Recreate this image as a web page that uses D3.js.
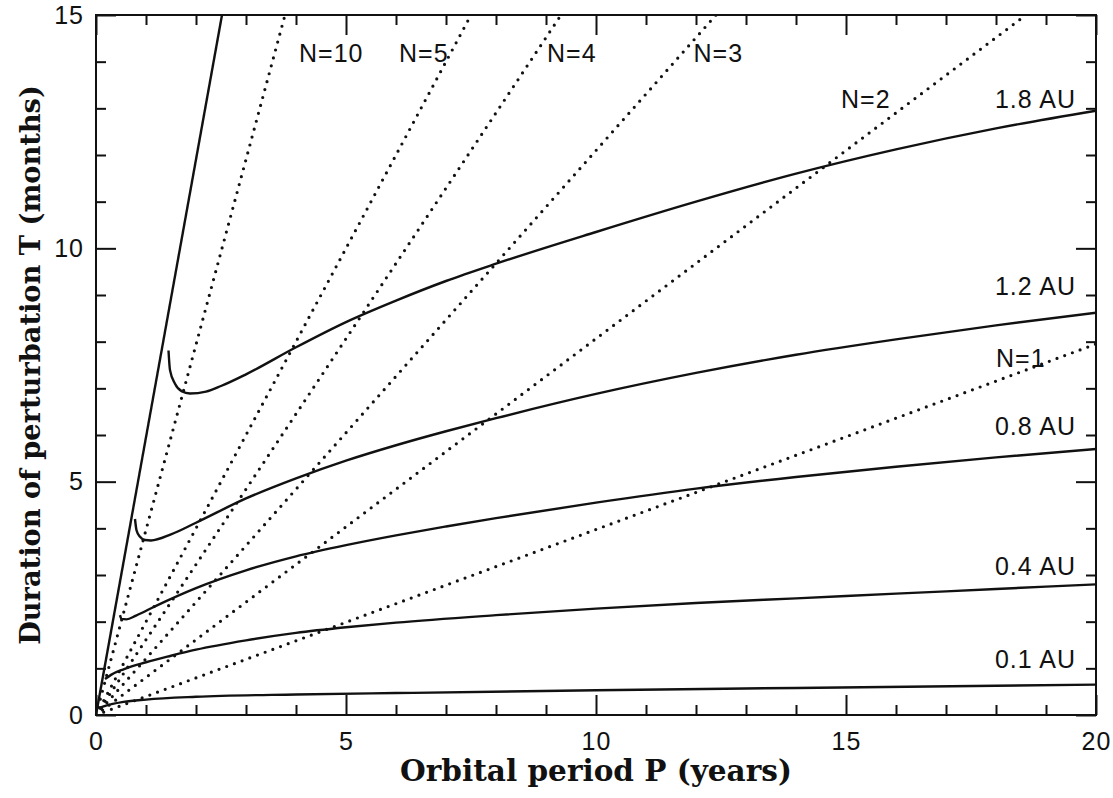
<!DOCTYPE html>
<html>
<head>
<meta charset="utf-8">
<script src="https://cdn.jsdelivr.net/npm/d3@7"></script>
<style>
  body { margin: 0; background: #fff; }
</style>
</head>
<body>
<div id="chart"></div>
<script>
// [period P in years, duration T in months]
const au01 = [[0.05, 0.14], [0.2, 0.2], [0.55, 0.28], [1, 0.33], [2, 0.39], [4, 0.44], [6, 0.47], [10, 0.53], [14, 0.58], [20, 0.65]];
const au04 = [[0.18, 0.77], [0.3, 0.86], [0.55, 0.98], [1, 1.13], [1.5, 1.27], [2, 1.4], [3, 1.6], [4, 1.76], [5, 1.88], [6, 1.98], [8, 2.14], [10, 2.28], [12, 2.4], [14, 2.5], [16, 2.6], [18, 2.7], [20, 2.8]];
const au08 = [[0.48, 2.14], [0.51, 2.06], [0.61, 2.05], [0.8, 2.13], [1.2, 2.34], [2, 2.72], [3, 3.1], [4, 3.4], [5, 3.64], [6, 3.85], [7, 4.04], [8, 4.22], [10, 4.55], [12, 4.85], [14, 5.1], [16, 5.32], [18, 5.52], [20, 5.7]];
const au12 = [[0.78, 4.2], [0.81, 3.96], [0.88, 3.82], [0.98, 3.75], [1.1, 3.74], [1.5, 3.87], [2, 4.12], [3, 4.64], [4, 5.07], [5, 5.45], [6, 5.78], [7, 6.08], [8, 6.36], [10, 6.88], [12, 7.33], [14, 7.72], [16, 8.05], [18, 8.35], [20, 8.62]];
const au18 = [[1.45, 7.81], [1.48, 7.39], [1.58, 7.1], [1.71, 6.94], [1.88, 6.89], [2.2, 6.93], [2.5, 7.05], [3, 7.3], [4, 7.88], [5, 8.42], [6, 8.88], [7, 9.3], [8, 9.67], [10, 10.35], [12, 11.0], [14, 11.6], [16, 12.12], [18, 12.57], [20, 12.95]];
const auNames = ["0.1 AU", "0.4 AU", "0.8 AU", "1.2 AU", "1.8 AU"];
const auSeries = [au01, au04, au08, au12, au18];

// dotted lines of constant N run from the origin to these end points
const nNames = ["N=1", "N=2", "N=3", "N=4", "N=5", "N=10"];
const nEnds = [[20, 7.95], [18.6, 15], [12.4, 15], [9.3, 15], [7.5, 15], [3.78, 15]];

// steep solid limit line
const edgeLine = [[0, 0], [2.52, 15]];

const xTicks = [0, 5, 10, 15, 20];
const yTicks = [0, 5, 10, 15];

const width = 1113, height = 798;
const margin = { top: 15, right: 17, bottom: 83, left: 96 };
const ink = "#111";
const labelFont = "'Liberation Sans', Arial, sans-serif";
const labelSize = 25;

const svg = d3.select("#chart").append("svg")
  .attr("width", width)
  .attr("height", height);

const x = d3.scaleLinear().domain([0, 20]).range([margin.left, width - margin.right]);
const y = d3.scaleLinear().domain([0, 15]).range([height - margin.bottom, margin.top]);

// ticks on all four sides, pointing inward; every unit a minor tick
function ticks(axis, values, majors, transform) {
  const g = svg.append("g")
    .attr("transform", transform)
    .call(axis.tickValues(values).tickSizeInner(-10).tickSizeOuter(0).tickFormat(""));
  g.select(".domain").remove();
  g.selectAll(".tick line")
    .attr("stroke", ink)
    .attr("stroke-width", 2)
    .each(function(d) {
      if (majors.includes(d)) {
        const l = d3.select(this);
        if (l.attr("x2") !== null && +l.attr("x2") !== 0) l.attr("x2", +l.attr("x2") * 2);
        if (l.attr("y2") !== null && +l.attr("y2") !== 0) l.attr("y2", +l.attr("y2") * 2);
      }
    });
}
ticks(d3.axisBottom(x), d3.range(0, 21), xTicks, `translate(0,${y(0)})`);
ticks(d3.axisTop(x), d3.range(0, 21), xTicks, `translate(0,${y(15)})`);
ticks(d3.axisLeft(y), d3.range(0, 16), yTicks, `translate(${x(0)},0)`);
ticks(d3.axisRight(y), d3.range(0, 16), yTicks, `translate(${x(20)},0)`);

// tick labels
function labels(axis, transform, padding) {
  const g = svg.append("g")
    .attr("transform", transform)
    .call(axis.tickSize(0).tickPadding(padding));
  g.select(".domain").remove();
  g.attr("font-family", labelFont).attr("font-size", labelSize);
  g.selectAll("text").attr("fill", ink).attr("letter-spacing", 1);
}
labels(d3.axisBottom(x).tickValues(xTicks).tickFormat(d3.format("d")), `translate(0,${y(0)})`, 17);
labels(d3.axisLeft(y).tickValues(yTicks).tickFormat(d3.format("d")), `translate(${x(0)},0)`, 12);

// frame
svg.append("rect")
  .attr("x", x(0)).attr("y", y(15))
  .attr("width", x(20) - x(0)).attr("height", y(0) - y(15))
  .attr("fill", "none").attr("stroke", ink).attr("stroke-width", 2);

svg.append("clipPath").attr("id", "plot")
  .append("rect")
  .attr("x", x(0)).attr("y", y(15))
  .attr("width", x(20) - x(0)).attr("height", y(0) - y(15));

const line = d3.line().x(d => x(d[0])).y(d => y(d[1]));

// dotted N lines
svg.append("g").attr("clip-path", "url(#plot)")
  .selectAll("path")
  .data(nEnds)
  .join("path")
  .attr("d", d => line([[0, 0], d]))
  .attr("fill", "none")
  .attr("stroke", ink)
  .attr("stroke-width", 3.2)
  .attr("stroke-linecap", "round")
  .attr("stroke-dasharray", "0 8.2");

// solid curves
const smooth = d3.line().x(d => x(d[0])).y(d => y(d[1])).curve(d3.curveMonotoneX);
svg.append("g").attr("clip-path", "url(#plot)")
  .selectAll("path")
  .data(auSeries)
  .join("path")
  .attr("d", smooth)
  .attr("fill", "none")
  .attr("stroke", ink)
  .attr("stroke-width", 2.4);

svg.append("path")
  .attr("d", line(edgeLine))
  .attr("fill", "none")
  .attr("stroke", ink)
  .attr("stroke-width", 2.4);

// curve labels, right aligned near the frame
const auLabelAt = [1, 3, 6, 9, 13];
svg.append("g")
  .selectAll("text")
  .data(auNames)
  .join("text")
  .attr("x", x(20) - 20)
  .attr("y", (d, i) => y(auLabelAt[i]))
  .attr("text-anchor", "end")
  .attr("font-family", labelFont)
  .attr("font-size", labelSize)
  .attr("letter-spacing", 1)
  .attr("fill", ink)
  .text(d => d);

// N labels, left aligned
const nLabelAt = [[18, 7.45], [14.9, 13], [11.95, 14], [9.02, 14], [6.06, 14], [4.06, 14]];
svg.append("g")
  .selectAll("text")
  .data(nNames)
  .join("text")
  .attr("x", (d, i) => x(nLabelAt[i][0]))
  .attr("y", (d, i) => y(nLabelAt[i][1]))
  .attr("font-family", labelFont)
  .attr("font-size", labelSize)
  .attr("letter-spacing", 1)
  .attr("fill", ink)
  .text(d => d);

// axis titles
const titleFont = "'DejaVu Serif', serif";
function fitText(sel, target) {
  const len = sel.node().getComputedTextLength();
  sel.attr("font-size", 24 * target / len);
}
const xTitle = svg.append("text")
  .attr("x", (x(0) + x(20)) / 2)
  .attr("y", 781)
  .attr("text-anchor", "middle")
  .attr("font-family", titleFont)
  .attr("font-weight", "bold")
  .attr("font-size", 24)
  .attr("fill", ink)
  .text("Orbital period P (years)");
fitText(xTitle, 392);

const yTitle = svg.append("text")
  .attr("transform", `translate(40,${(y(0) + y(15)) / 2}) rotate(-90)`)
  .attr("text-anchor", "middle")
  .attr("font-family", titleFont)
  .attr("font-weight", "bold")
  .attr("font-size", 24)
  .attr("fill", ink)
  .text("Duration of perturbation T (months)");
fitText(yTitle, 560);
</script>
</body>
</html>
